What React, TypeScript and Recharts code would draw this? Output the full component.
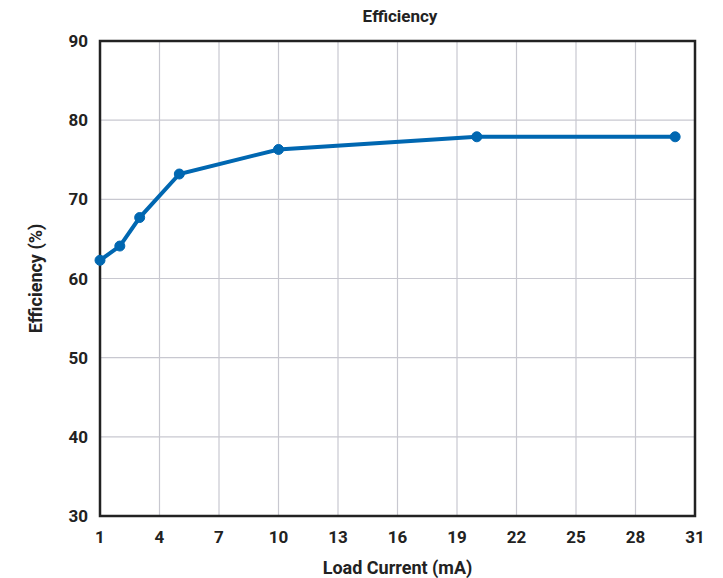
import React from 'react';
import {
  LineChart,
  Line,
  XAxis,
  YAxis,
  CartesianGrid,
  ReferenceArea,
} from 'recharts';

const loadCurrent = [1, 2, 3, 5, 10, 20, 30];
const efficiency = [62.3, 64.1, 67.7, 73.2, 76.3, 77.9, 77.9];
const xTicks = [1, 4, 7, 10, 13, 16, 19, 22, 25, 28, 31];
const yTicks = [30, 40, 50, 60, 70, 80, 90];

const data = loadCurrent.map((x, i) => ({ x, y: efficiency[i] }));

const FONT = 'Roboto, "DejaVu Sans", sans-serif';
const BLUE = '#0067b1';
const INK = '#222';

export default function App() {
  return (
    <div style={{ width: 715, height: 570, position: 'relative', fontFamily: FONT }}>
      <div
        style={{
          position: 'absolute',
          top: -1,
          left: 0,
          width: 784,
          textAlign: 'center',
          fontWeight: 700,
          fontSize: 17,
          lineHeight: '18px',
          color: INK,
        }}
      >
        Efficiency
      </div>
      <LineChart
        width={715}
        height={570}
        data={data}
        margin={{ top: 33, right: 28, bottom: 32, left: 32 }}
      >
        <CartesianGrid stroke="#c8c8d0" strokeWidth={1.2} />
        <XAxis
          type="number"
          dataKey="x"
          domain={[1, 31]}
          ticks={xTicks}
          interval={0}
          tickLine={false}
          axisLine={false}
          height={30}
          tick={{ fill: INK, fontSize: 17, fontWeight: 700, fontFamily: FONT }}
          tickMargin={9}
          label={{
            value: 'Load Current (mA)',
            position: 'bottom',
            offset: 15,
            style: { fill: INK, fontSize: 18, fontWeight: 700, fontFamily: FONT },
          }}
        />
        <YAxis
          type="number"
          domain={[30, 90]}
          ticks={yTicks}
          interval={0}
          tickLine={false}
          axisLine={false}
          width={60}
          tick={{ fill: INK, fontSize: 17, fontWeight: 700, fontFamily: FONT }}
          tickMargin={6}
          label={{
            value: 'Efficiency (%)',
            angle: -90,
            position: 'insideLeft',
            offset: -4,
            style: { fill: INK, fontSize: 18, fontWeight: 700, fontFamily: FONT, textAnchor: 'middle' },
          }}
        />
        <ReferenceArea
          x1={1}
          x2={31}
          y1={30}
          y2={90}
          fill="none"
          stroke={INK}
          strokeWidth={2.5}
          ifOverflow="visible"
        />
        <Line
          type="linear"
          dataKey="y"
          stroke={BLUE}
          strokeWidth={4}
          dot={{ r: 5, fill: BLUE, stroke: BLUE, strokeWidth: 1 }}
          isAnimationActive={false}
        />
      </LineChart>
    </div>
  );
}
